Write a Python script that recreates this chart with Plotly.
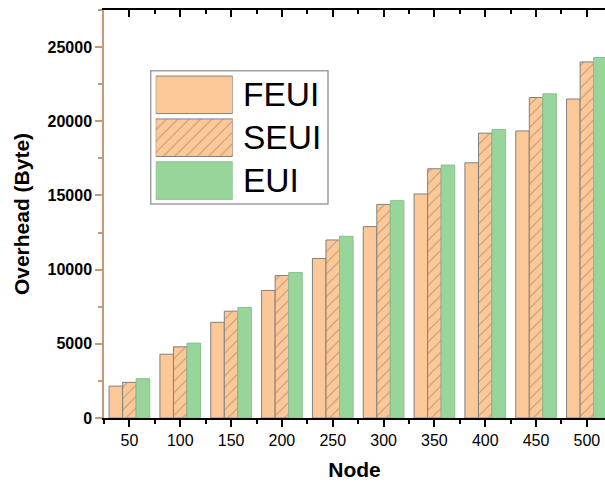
import plotly.graph_objects as go

# ---- data ----
nodes = [50, 100, 150, 200, 250, 300, 350, 400, 450, 500]
feui = [2150, 4300, 6450, 8600, 10750, 12900, 15100, 17200, 19350, 21500]
seui = [2400, 4800, 7200, 9600, 12000, 14400, 16800, 19200, 21600, 24000]
eui = [2650, 5050, 7450, 9800, 12250, 14650, 17050, 19450, 21850, 24300]
series_names = ["FEUI", "SEUI", "EUI"]
y_ticks = [0, 5000, 10000, 15000, 20000, 25000]

FONT = "Liberation Sans, Arial, sans-serif"
PEACH = "#FDC897"
GREEN = "#98D59B"
EDGE = "#808080"
GEDGE = "#8cbf8f"
HATCH = "#7a6656"
BROWN = "#C49A76"

xpos = list(range(len(nodes)))
series = [feui, seui, eui]
styles = [
    dict(color=PEACH, line=dict(color=EDGE, width=1)),
    dict(color=PEACH, line=dict(color=EDGE, width=1),
         pattern=dict(shape="/", fgcolor=HATCH, size=8, solidity=0.12)),
    dict(color=GREEN, line=dict(color=GEDGE, width=1)),
]

fig = go.Figure()
for name, vals, st in zip(series_names, series, styles):
    fig.add_trace(go.Bar(x=xpos, y=vals, name=name, marker=st, showlegend=False))

# custom large-swatch legend drawn as bars on a small hidden subplot
for i, (name, st) in enumerate(zip(series_names, styles)):
    fig.add_trace(go.Bar(x=[1], y=[i], orientation="h", width=0.876, offset=-0.438,
                         marker=st, xaxis="x3", yaxis="y3", showlegend=False,
                         hoverinfo="skip"))

W, H = 605, 487
L, R, T, B = 104, 0, 10, 69
pw, ph = W - L - R, H - T - B

def px(xp):
    return (xp - L) / pw

def py(yp):
    return (H - B - yp) / ph

row_centers = [94.8, 137.2, 180.5]
annotations = [
    dict(text=n, x=px(241), y=py(yc), xref="paper", yref="paper", xanchor="left",
         yanchor="middle", showarrow=False, font=dict(family=FONT, size=33.5, color="black"))
    for n, yc in zip(series_names, row_centers)
]

minor_x = [i - 0.5 for i in range(len(nodes) + 1)]

fig.update_layout(
    width=W, height=H,
    margin=dict(l=L, r=R, t=T, b=B),
    paper_bgcolor="white", plot_bgcolor="white",
    barmode="group", bargap=0.2, bargroupgap=0,
    font=dict(family=FONT, color="black"),
    xaxis=dict(
        range=[-0.5, 9.356], tickmode="array", tickvals=xpos,
        ticktext=[str(n) for n in nodes],
        ticks="outside", ticklen=7, tickwidth=1.5, tickcolor="black",
        showline=True, linecolor="black", linewidth=1.5,
        showgrid=False, zeroline=False,
        tickfont=dict(family=FONT, size=16, color="black"),
        minor=dict(tickmode="array", tickvals=minor_x, ticks="outside", ticklen=4,
                   tickwidth=1.5, tickcolor="black", showgrid=False),
        title=dict(text="<b>Node</b>", font=dict(family=FONT, size=21, color="black"),
                   standoff=14),
    ),
    xaxis2=dict(
        overlaying="x", side="top", range=[-0.5, 9.356], tickmode="array",
        tickvals=xpos, showticklabels=False,
        ticks="inside", ticklen=7, tickwidth=1.5, tickcolor="black",
        showline=True, linecolor="black", linewidth=1.5,
        showgrid=False, zeroline=False,
        minor=dict(tickmode="array", tickvals=minor_x, ticks="inside", ticklen=4,
                   tickwidth=1.5, tickcolor="black", showgrid=False),
    ),
    yaxis=dict(
        range=[0, 27500], tickmode="array", tickvals=y_ticks,
        ticktext=[f"<b>{v}</b>" for v in y_ticks],
        ticks="outside", ticklen=7, tickwidth=1.5, tickcolor=BROWN,
        showline=True, linecolor=BROWN, linewidth=1.5,
        showgrid=False, zeroline=False,
        tickfont=dict(family=FONT, size=16, color="black"),
        minor=dict(dtick=2500, tick0=0, ticks="outside", ticklen=4, tickwidth=1.5,
                   tickcolor=BROWN, showgrid=False),
        title=dict(text="<b>Overhead (Byte)</b>", font=dict(family=FONT, size=21, color="black"),
                   standoff=12),
    ),
    xaxis3=dict(domain=[px(155.7), px(232.7)], range=[0, 1], visible=False,
                anchor="y3", fixedrange=True),
    yaxis3=dict(domain=[py(202.0), py(73.4)], range=[2.5, -0.5], visible=False,
                anchor="x3", fixedrange=True),
    shapes=[dict(type="rect", xref="paper", yref="paper", x0=px(150.7), x1=px(328),
                 y0=py(204), y1=py(70.7), line=dict(color="#a0a0a0", width=1.5),
                 fillcolor="rgba(0,0,0,0)", layer="below")],
    annotations=annotations,
)

# dummy empty trace so the top mirror axis is rendered
fig.add_trace(go.Scatter(x=[], y=[], xaxis="x2", showlegend=False, hoverinfo="skip"))

fig.write_html("out.html")
